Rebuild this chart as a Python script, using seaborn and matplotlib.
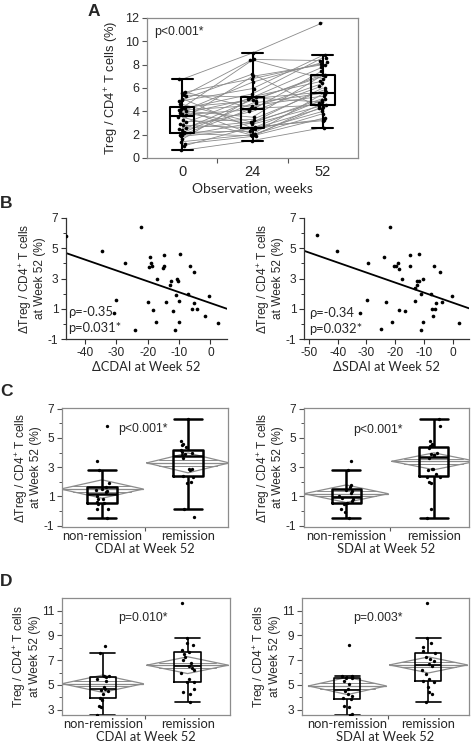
import numpy as np
import pandas as pd
import seaborn as sns
import matplotlib.pyplot as plt
from matplotlib.ticker import FixedLocator

sns.set_style("ticks")
plt.rcParams['font.family'] = ['Liberation Sans', 'DejaVu Sans']
plt.rcParams['mathtext.fontset'] = 'custom'
plt.rcParams['mathtext.rm'] = 'Liberation Sans'
plt.rcParams['mathtext.it'] = 'Liberation Sans:italic'
plt.rcParams['axes.unicode_minus'] = False
np.random.seed(7)

# ---------------- data ----------------
# A: Treg / CD4+ at week 0, 24, 52 (same patient per index)
weeks = ['0', '24', '52']
treg_w0 = [6.75, 5.7, 5.6, 5.4, 5.3, 5.1, 5.0, 4.9, 4.6, 4.35, 4.3, 4.25, 4.2,
           4.1, 4.05, 4.0, 3.9, 3.8, 3.7, 3.5, 3.3, 3.1, 2.9, 2.8, 2.6, 2.5,
           2.4, 2.2, 2.15, 2.1, 2.0, 1.95, 1.85, 1.6, 1.4, 1.2, 1.0, 0.65]
treg_w24 = [9.0, 4.3, 6.8, 5.2, 8.45, 2.55, 7.2, 5.95, 3.05, 4.9, 8.4, 2.05,
            5.5, 4.5, 3.5, 6.5, 2.9, 5.1, 4.15, 1.95, 7.0, 3.3, 5.25, 2.6,
            4.0, 3.1, 5.0, 2.3, 4.7, 1.9, 4.25, 3.0, 2.5, 5.15, 2.0, 1.85,
            2.65, 1.5]
treg_w52 = [11.6, 6.4, 8.1, 7.8, 8.35, 5.0, 4.2, 8.8, 6.0, 7.15, 6.8, 5.5,
            8.6, 5.3, 7.1, 8.2, 4.5, 5.65, 7.5, 4.4, 8.0, 5.8, 6.6, 3.3, 6.2,
            4.9, 7.0, 4.0, 5.55, 3.4, 4.55, 5.1, 4.3, 4.8, 3.8, 4.7, 3.2, 2.6]

# B: delta Treg vs delta CDAI / delta SDAI
b_dcdai = [-45.9, -34.5, -27.2, -22.0, -30.1, -30.7, -24.1, -19.8, -19.2, -19.0,
           -19.5, -18.5, -18.4, -17.4, -17.0, -15.1, -14.7, -14.8, -14.2, -12.9,
           -12.4, -11.8, -11.2, -11.1, -10.5, -10.2, -10.1, -9.9, -9.6, -6.6,
           -7.2, -5.2, -5.8, -5.3, -4.3, -1.6, -0.3, 2.5]
b_dtreg_cdai = [5.8, 4.85, 4.05, 6.4, 1.6, 0.75, -0.4, 1.43, 4.45, 4.05, 3.75,
                3.85, 0.9, 0.15, 2.95, 3.7, 4.55, 3.85, 1.43, 2.55, 2.85, 0.85,
                -0.4, 1.9, 2.95, 2.85, 1.5, 0.15, 4.65, 3.85, 2.0, 3.45, 1.0,
                1.35, 1.0, 0.5, 1.85, 0.05]
b_dsdai = [-47.1, -40.2, -29.4, -22.0, -29.9, -32.2, -24.8, -23.3, -23.8, -20.3,
           -19.7, -19.0, -18.8, -18.6, -21.1, -16.6, -17.7, -14.9, -14.8, -13.1,
           -13.1, -12.6, -12.4, -11.8, -11.8, -11.2, -10.9, -10.4, -10.4, -7.6,
           -7.4, -6.9, -6.5, -6.3, -5.8, -4.6, -3.9, -0.2, 2.3]
b_dtreg_sdai = [5.9, 4.85, 4.05, 6.4, 1.6, 0.75, -0.35, 1.45, 4.45, 3.8, 3.85,
                4.05, 3.65, 0.9, 0.15, 0.85, 2.95, 3.85, 4.55, 1.5, 2.35, 2.55,
                2.85, 2.85, 4.65, -0.4, 1.95, 3.0, 0.15, 2.0, 1.0, 0.55, 3.85,
                1.0, 1.35, 3.45, 1.45, 1.85, 0.05]

groups = ['non-remission', 'remission']
# C: delta Treg by remission status
c_cdai_nr = [-0.45, 0.1, 0.15, 0.5, 0.55, 0.6, 0.8, 0.85, 1.0, 1.3, 1.35, 1.4,
             1.5, 1.65, 1.9, 2.8, 3.45, 5.85]
c_cdai_r = [-0.4, 0.1, 1.9, 2.0, 2.35, 2.38, 2.8, 2.85, 2.9, 3.65, 3.85, 3.9,
            3.95, 4.05, 4.15, 4.35, 4.5, 4.6, 4.8, 6.3]
c_sdai_nr = [-0.5, -0.1, 0.1, 0.5, 0.55, 0.7, 0.8, 0.9, 1.0, 1.2, 1.35, 1.45,
             1.65, 1.8, 2.8, 3.45]
c_sdai_r = [-0.5, 0.1, 1.9, 2.0, 2.3, 2.35, 2.55, 2.8, 2.85, 2.9, 3.6, 3.8,
            3.85, 3.9, 4.0, 4.3, 4.45, 4.5, 4.6, 4.8, 5.8, 6.3]
c_cdai_mean = [1.5, 3.29]
c_cdai_ci = [0.63, 0.68]
c_sdai_mean = [1.18, 3.4]
c_sdai_ci = [0.6, 0.58]

# D: Treg at week 52 by remission status
d_cdai_nr = [2.6, 3.2, 3.3, 3.8, 3.97, 4.3, 4.5, 4.6, 4.7, 4.8, 5.3, 5.5, 5.62,
             5.7, 5.75, 7.6, 8.15]
d_cdai_r = [3.6, 4.3, 4.4, 4.7, 5.2, 5.27, 5.5, 6.0, 6.2, 6.4, 6.55, 6.8, 7.0,
            7.3, 7.5, 7.65, 7.8, 8.2, 8.4, 8.8, 11.6]
d_sdai_nr = [2.6, 2.65, 3.2, 3.3, 3.85, 3.95, 4.1, 4.3, 4.5, 4.7, 5.1, 5.3,
             5.55, 5.6, 5.65, 5.7, 5.76, 8.25]
d_sdai_r = [3.6, 4.3, 4.4, 4.8, 5.25, 5.32, 5.5, 5.9, 6.2, 6.5, 6.7, 6.9, 7.1,
            7.3, 7.55, 7.75, 8.1, 8.4, 8.8, 11.6]
d_cdai_mean = [5.1, 6.6]
d_cdai_ci = [0.7, 0.68]
d_sdai_mean = [4.92, 6.62]
d_sdai_ci = [0.7, 0.65]

W, H = 472, 745
fig = plt.figure(figsize=(W / 100, H / 100), dpi=100)

def px_axes(l, t, r, b):
    return fig.add_axes([l / W, 1 - b / H, (r - l) / W, (b - t) / H])

def widen_caps(ax, start, width):
    # seaborn draws caps narrower than the box; stretch them
    for ln in ax.lines[start:]:
        xs, ys = np.asarray(ln.get_xdata(), float), np.asarray(ln.get_ydata(), float)
        if len(xs) == 2 and ys[0] == ys[1]:
            span = abs(xs[1] - xs[0])
            if 0 < span < width * 0.95:
                c = xs.mean()
                ln.set_xdata([c - width / 2, c + width / 2])

def frame(ax, color='#8c8c8c'):
    for sp in ax.spines.values():
        sp.set_visible(True)
        sp.set_color(color)
        sp.set_linewidth(0.9)

def diamond(ax, pos, mean, ci, half=0.48):
    col = '#8c8c8c'
    ax.plot([pos - half, pos, pos + half, pos, pos - half],
            [mean, mean + ci, mean, mean - ci, mean], color=col, lw=0.9, zorder=1)
    ax.plot([pos - half, pos + half], [mean, mean], color=col, lw=0.9, zorder=1)
    d, w = 0.3 * ci, 0.7 * half
    for s in (1, -1):
        ax.plot([pos - w, pos + w], [mean + s * d] * 2, color=col, lw=0.7, zorder=1)

def ylab(ax, s):
    ax.set_ylabel(s, fontsize=8.6, labelpad=1, linespacing=1.05)

# ---------------- A ----------------
ax = px_axes(147, 18, 358, 158)
n = len(treg_w0)
df_a = pd.DataFrame({'patient': np.tile(np.arange(n), 3),
                     'pos': np.repeat([0, 1, 2], n),
                     'treg': treg_w0 + treg_w24 + treg_w52})
sns.lineplot(data=df_a, x='pos', y='treg', units='patient', estimator=None,
             color='#8a8a8a', lw=0.6, ax=ax, zorder=1, legend=False)
k = len(ax.lines)
sns.boxplot(data=df_a, x='pos', y='treg', fill=False, color='black', width=0.34,
            linewidth=1.5, showfliers=False, ax=ax, zorder=2)
widen_caps(ax, k, 0.3)
sns.stripplot(data=df_a, x='pos', y='treg', color='black', size=2.6, jitter=0.06,
              ax=ax, zorder=3)
ax.set_xlim(-0.5, 2.5)
ax.set_ylim(0, 12)
ax.set_yticks(range(0, 13, 2))
ax.set_xticks([0, 1, 2], weeks)
ax.xaxis.set_minor_locator(FixedLocator([0.5, 1.5]))
ax.tick_params(axis='x', which='major', length=0, labelsize=10.5, pad=5)
ax.tick_params(axis='x', which='minor', length=3.5, width=0.8, color='#555555')
ax.tick_params(axis='y', labelsize=9, length=3.5, width=0.8, color='#555555', pad=2)
frame(ax)
ax.set_xlabel('Observation, weeks', fontsize=10, family='Lato', labelpad=2)
ax.set_ylabel('Treg / CD4$^{+}$ T cells (%)', fontsize=9.3, labelpad=3)

# ---------------- B ----------------
def panel_b(box, x, y, xlim, xticks, xlabel):
    ax = px_axes(*box)
    ax.set_xlim(*xlim)
    ax.set_ylim(-1, 7)
    sns.scatterplot(x=x, y=y, color='black', s=7, linewidth=0, ax=ax, zorder=3)
    sns.regplot(x=x, y=y, scatter=False, ci=None, truncate=False, color='black',
                line_kws={'lw': 1.3}, ax=ax)
    ax.set_xlim(*xlim)
    ax.set_ylim(-1, 7)
    ax.set_xticks(xticks)
    ax.set_yticks([-1, 1, 3, 5, 7])
    ax.yaxis.set_minor_locator(FixedLocator([0, 2, 4, 6]))
    ax.tick_params(labelsize=8.6, length=3.5, width=0.8, color='#333333', pad=2)
    ax.tick_params(which='minor', length=2, width=0.7, color='#333333')
    sns.despine(ax=ax)
    for sp in ('left', 'bottom'):
        ax.spines[sp].set_color('#333333')
        ax.spines[sp].set_linewidth(0.9)
    ax.set_xlabel(xlabel, fontsize=9.3, family='Lato', labelpad=2)
    ylab(ax, 'ΔTreg / CD4$^{+}$ T cells\nat Week 52 (%)')
    return ax

panel_b((66, 218, 227, 339), b_dcdai, b_dtreg_cdai, (-46, 5.3),
        [-40, -30, -20, -10, 0], 'ΔCDAI at Week 52')
panel_b((304, 218, 469, 339), b_dsdai, b_dtreg_sdai, (-51.7, 5.6),
        [-50, -40, -30, -20, -10, 0], 'ΔSDAI at Week 52')

# ---------------- C / D ----------------
def panel_grp(box, nr, r, means, cis, xlim, ylim, yticks, yminor, xlabel, ylabel,
              bw, lw):
    ax = px_axes(*box)
    df = pd.DataFrame({'status': [groups[0]] * len(nr) + [groups[1]] * len(r),
                       'val': nr + r})
    for i in range(2):
        diamond(ax, i, means[i], cis[i])
    k = len(ax.lines)
    sns.boxplot(data=df, x='status', y='val', order=groups, fill=False,
                color='black', width=bw, linewidth=lw, showfliers=False, ax=ax,
                zorder=2)
    widen_caps(ax, k, bw * 0.95)
    sns.stripplot(data=df, x='status', y='val', order=groups, color='black',
                  size=2.4, jitter=0.08, ax=ax, zorder=3)
    ax.set_xlim(*xlim)
    ax.set_ylim(*ylim)
    ax.set_yticks(yticks)
    ax.yaxis.set_minor_locator(FixedLocator(yminor))
    ax.xaxis.set_minor_locator(FixedLocator([0.5]))
    ax.tick_params(axis='x', which='major', length=0, labelsize=9.3, pad=2)
    for t in ax.get_xticklabels():
        t.set_family('Lato')
    ax.tick_params(axis='x', which='minor', length=3, width=0.8, color='#555555')
    ax.tick_params(axis='y', labelsize=8.6, length=3.5, width=0.8, color='#555555', pad=2)
    ax.tick_params(axis='y', which='minor', length=2, width=0.7, color='#555555')
    frame(ax)
    ax.set_xlabel(xlabel, fontsize=9.3, family='Lato', labelpad=1)
    ylab(ax, ylabel)
    return ax

dlab = 'ΔTreg / CD4$^{+}$ T cells\nat Week 52 (%)'
tlab = 'Treg / CD4$^{+}$ T cells\nat Week 52 (%)'
panel_grp((62, 408, 228, 527), c_cdai_nr, c_cdai_r, c_cdai_mean, c_cdai_ci,
          (-0.465, 1.465), (-1.1, 7.05), [-1, 1, 3, 5, 7], [0, 2, 4, 6],
          'CDAI at Week 52', dlab, 0.34, 1.8)
panel_grp((304, 408, 469, 527), c_sdai_nr, c_sdai_r, c_sdai_mean, c_sdai_ci,
          (-0.48, 1.4), (-1.1, 7.05), [-1, 1, 3, 5, 7], [0, 2, 4, 6],
          'SDAI at Week 52', dlab, 0.33, 1.8)
panel_grp((62, 598, 230, 715), d_cdai_nr, d_cdai_r, d_cdai_mean, d_cdai_ci,
          (-0.48, 1.5), (2.57, 12.03), [3, 5, 7, 9, 11], [4, 6, 8, 10],
          'CDAI at Week 52', tlab, 0.31, 1.2)
panel_grp((302, 598, 469, 715), d_sdai_nr, d_sdai_r, d_sdai_mean, d_sdai_ci,
          (-0.56, 1.5), (2.57, 12.03), [3, 5, 7, 9, 11], [4, 6, 8, 10],
          'SDAI at Week 52', tlab, 0.32, 1.2)

# ---------------- annotations ----------------
def ftext(x, y, s, **kw):
    fig.text(x / W, 1 - y / H, s, va='center', ha='left', **kw)

ftext(154, 32, 'p<0.001*', fontsize=8.8)
ftext(68, 312, 'ρ=-0.35', fontsize=9.3, family='Lato')
ftext(68, 328, 'p=0.031*', fontsize=9.3, family='Lato')
ftext(309, 313, 'ρ=-0.34', fontsize=9.3, family='Lato')
ftext(309, 329, 'p=0.032*', fontsize=9.3, family='Lato')
ftext(118, 429, 'p<0.001*', fontsize=8.8)
ftext(353, 430, 'p<0.001*', fontsize=8.8)
ftext(118, 618, 'p=0.010*', fontsize=8.8)
ftext(353, 618, 'p=0.003*', fontsize=8.8)

for lab, x, y in [('A', 88, 11), ('B', 0, 204), ('C', 0, 391), ('D', 0, 581)]:
    ftext(x, y, lab, fontsize=12.5, fontweight='bold')

fig.savefig('out.png', dpi=100)
